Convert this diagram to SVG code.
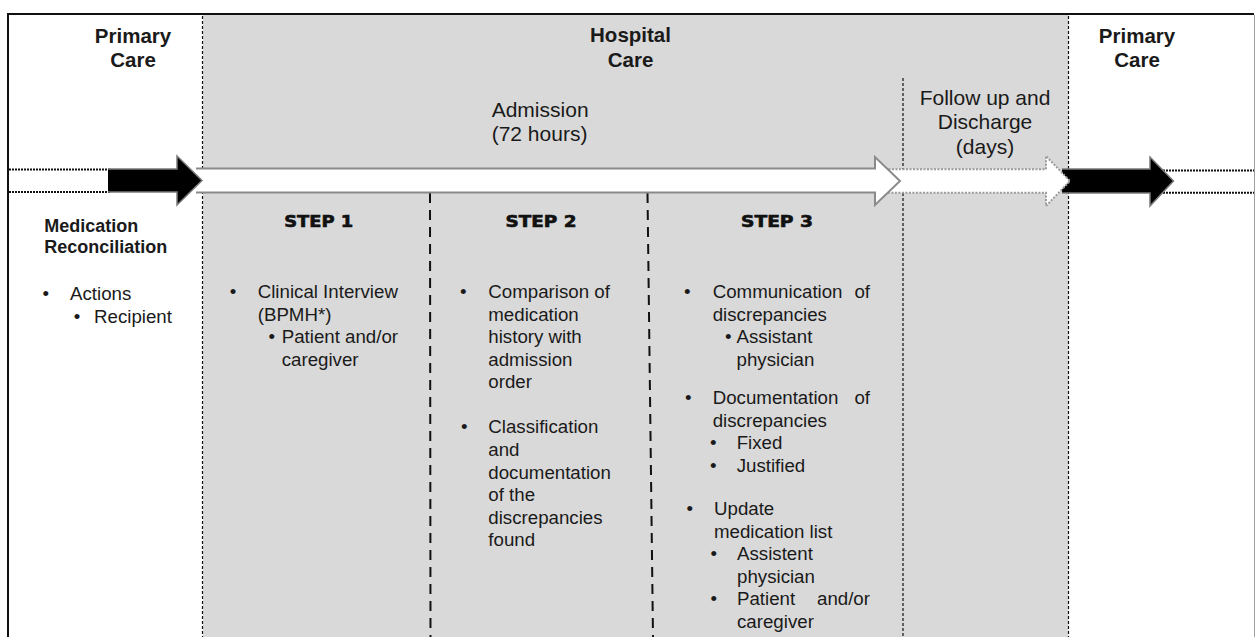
<svg xmlns="http://www.w3.org/2000/svg" width="1255" height="637" viewBox="0 0 1255 637">
<defs>
<style>
.t{font-family:"Liberation Sans",Arial,sans-serif;fill:#1a1a1a}
.title{font-size:20.5px;font-weight:bold;text-anchor:middle}
.phase{font-size:21px}
.body{font-size:18.7px}
.bold{font-weight:bold}
.step{font-family:"DejaVu Sans",sans-serif;font-weight:bold;font-size:15px;fill:#111;stroke:#111;stroke-width:0.6;text-anchor:middle}
.thin{stroke:#111;stroke-width:1.2;stroke-dasharray:3 2;fill:none}
.heavy{stroke:#111;stroke-width:2;stroke-dasharray:10 7;fill:none}
.dots{stroke:#111;stroke-width:2;stroke-dasharray:2 1;fill:none}
.end{text-anchor:end}
</style>
</defs>
<rect width="1255" height="637" fill="#ffffff"/>
<g id="hospital-area">
<rect x="203" y="15" width="865.5" height="622" fill="#d9d9d9"/>
</g>
<g id="frame">
<line x1="8" y1="14" x2="1254" y2="14" stroke="#111" stroke-width="2"/>
<line x1="8" y1="13" x2="8" y2="637" stroke="#111" stroke-width="2"/>
<line x1="1254.5" y1="15" x2="1254.5" y2="637" stroke="#a0a0a0" stroke-width="1"/>
</g>
<g id="dividers">
<line class="thin" x1="202.5" y1="16" x2="202.5" y2="637"/>
<line class="thin" x1="903" y1="78" x2="903" y2="637"/>
<line class="thin" x1="1068.5" y1="16" x2="1068.5" y2="637"/>
<line class="heavy" x1="430" y1="193" x2="430.5" y2="637"/>
<line class="heavy" x1="647.5" y1="193" x2="653" y2="637"/>
</g>
<g id="connectors">
<line class="dots" x1="9" y1="169.5" x2="110" y2="169.5"/>
<line class="dots" x1="9" y1="192" x2="110" y2="192"/>
<line class="dots" x1="1160" y1="170.5" x2="1254" y2="170.5"/>
<line class="dots" x1="1160" y1="192.8" x2="1254" y2="192.8"/>
<path d="M1062,169 H1150 V157 L1173.5,181 L1150,206 V193 H1062" fill="#000" stroke="#7a7a7a" stroke-width="1.5"/>
<path d="M885,169.3 H1046 V156 L1070,181 L1046,206 V192.7 H885" fill="#fff" stroke="#9a9a9a" stroke-width="2" stroke-dasharray="2 1.5"/>
<path d="M196,168.5 H875 V157 L900,181 L875,205 V192.5 H196" fill="#fff" stroke="#8a8a8a" stroke-width="2"/>
<path d="M108,169 H177 V156 L202,180.5 L177,205 V192 H108" fill="#000" stroke="#7a7a7a" stroke-width="1.5"/>
</g>
<g id="primary-care-left">
<text class="t title" x="133" y="43">Primary</text>
<text class="t title" x="133" y="67">Care</text>
</g>
<g id="hospital-care">
<text class="t title" x="630.5" y="42">Hospital</text>
<text class="t title" x="630.5" y="66.5">Care</text>
</g>
<g id="primary-care-right">
<text class="t title" x="1137" y="43">Primary</text>
<text class="t title" x="1137" y="66.5">Care</text>
</g>
<g id="admission">
<text class="t phase" x="491.7" y="116.5">Admission</text>
<text class="t phase" x="491.7" y="140.5">(72 hours)</text>
</g>
<g id="follow-up">
<text class="t phase" x="985" y="104.5" text-anchor="middle">Follow up and</text>
<text class="t phase" x="985" y="129" text-anchor="middle">Discharge</text>
<text class="t phase" x="985" y="153.5" text-anchor="middle">(days)</text>
</g>
<g id="legend">
<text class="t body bold" x="44.3" y="231.7" style="font-size:18px">Medication</text>
<text class="t body bold" x="44.3" y="253.3" style="font-size:18px">Reconciliation</text>
<text class="t body" x="42.4" y="300">•</text>
<text class="t body" x="70" y="300">Actions</text>
<text class="t body" x="73.7" y="322.5">•</text>
<text class="t body" x="94" y="322.5">Recipient</text>
</g>
<g id="step1">
<text class="step" x="318.7" y="227" textLength="69" lengthAdjust="spacingAndGlyphs">STEP 1</text>
<text class="t body" x="229.7" y="298">•</text>
<text class="t body" x="257.7" y="298">Clinical Interview</text>
<text class="t body" x="257.7" y="320.6">(BPMH*)</text>
<text class="t body" x="268.4" y="343.2">•</text>
<text class="t body" x="281.7" y="343.2">Patient and/or</text>
<text class="t body" x="281.7" y="365.8">caregiver</text>
</g>
<g id="step2">
<text class="step" x="541" y="227" textLength="71" lengthAdjust="spacingAndGlyphs">STEP 2</text>
<text class="t body" x="460" y="298">•</text>
<text class="t body" x="488.3" y="298">Comparison of</text>
<text class="t body" x="488.3" y="320.6">medication</text>
<text class="t body" x="488.3" y="343.2">history with</text>
<text class="t body" x="488.3" y="365.8">admission</text>
<text class="t body" x="488.3" y="388.4">order</text>
<text class="t body" x="461" y="433.4">•</text>
<text class="t body" x="488.3" y="433.4">Classification</text>
<text class="t body" x="488.3" y="456">and</text>
<text class="t body" x="488.3" y="478.6">documentation</text>
<text class="t body" x="488.3" y="501.2">of the</text>
<text class="t body" x="488.3" y="523.8">discrepancies</text>
<text class="t body" x="488.3" y="546.4">found</text>
</g>
<g id="step3">
<text class="step" x="777" y="227" textLength="72" lengthAdjust="spacingAndGlyphs">STEP 3</text>
<text class="t body" x="684" y="298">•</text>
<text class="t body" x="712.7" y="298">Communication</text>
<text class="t body end" x="870" y="298">of</text>
<text class="t body" x="712.7" y="320.6">discrepancies</text>
<text class="t body" x="725" y="343.2">•</text>
<text class="t body" x="736.5" y="343.2">Assistant</text>
<text class="t body" x="736.5" y="365.8">physician</text>
<text class="t body" x="685" y="404">•</text>
<text class="t body" x="712.7" y="404">Documentation</text>
<text class="t body end" x="870" y="404">of</text>
<text class="t body" x="712.7" y="426.6">discrepancies</text>
<text class="t body" x="710" y="449.2">•</text>
<text class="t body" x="736.7" y="449.2">Fixed</text>
<text class="t body" x="710" y="471.8">•</text>
<text class="t body" x="736.7" y="471.8">Justified</text>
<text class="t body" x="686.5" y="515">•</text>
<text class="t body" x="714" y="515">Update</text>
<text class="t body" x="714" y="537.6">medication list</text>
<text class="t body" x="710.5" y="560.2">•</text>
<text class="t body" x="737" y="560.2">Assistent</text>
<text class="t body" x="737" y="582.8">physician</text>
<text class="t body" x="710.5" y="605.4">•</text>
<text class="t body" x="737" y="605.4">Patient</text>
<text class="t body end" x="870" y="605.4">and/or</text>
<text class="t body" x="737" y="628">caregiver</text>
</g>
</svg>
